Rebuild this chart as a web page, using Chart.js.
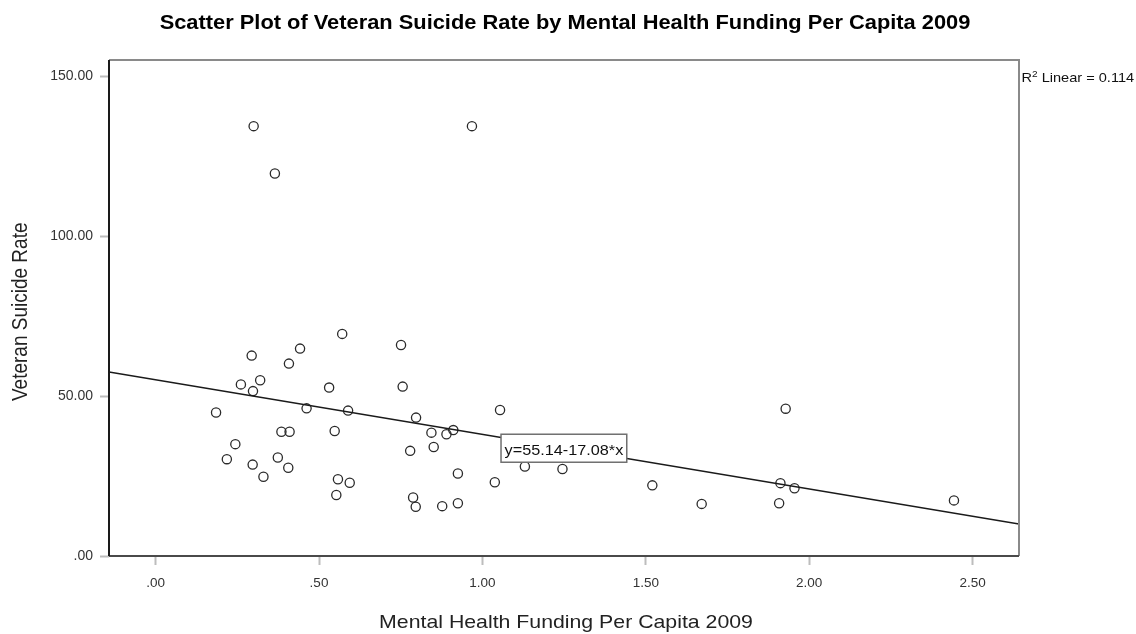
<!DOCTYPE html>
<html><head><meta charset="utf-8">
<script src="https://cdn.jsdelivr.net/npm/chart.js@4.4.0/dist/chart.umd.min.js"></script>
<style>html,body{margin:0;padding:0;background:#fff;overflow:hidden}canvas{display:block}</style>
</head><body>
<canvas id="c" width="1136" height="634"></canvas>
<script>
const chartTitle = "Scatter Plot of Veteran Suicide Rate by Mental Health Funding Per Capita 2009";
const xAxisTitle = "Mental Health Funding Per Capita 2009";
const yAxisTitle = "Veteran Suicide Rate";
const fitLabel = "y=55.14-17.08*x";
const r2Label = ["R", "2", " Linear = 0.114"];

const fundingPerCapita = [0.300, 0.365, 0.968, 0.571, 0.751, 0.294, 0.442, 0.408, 0.320, 0.261,
  0.298, 0.531, 0.756, 0.185, 0.462, 0.589, 0.797, 0.385, 0.410, 0.548,
  0.244, 0.779, 0.218, 0.374, 0.297, 0.406, 0.330, 0.558, 0.594, 0.553,
  0.788, 0.796, 0.844, 0.890, 0.911, 0.851, 1.054, 0.925, 1.038, 1.130,
  1.245, 1.520, 1.671, 0.877, 0.925, 1.928, 1.912, 1.955, 1.908, 2.443];
const suicideRate = [134.5, 119.7, 134.5, 69.5, 66.0, 62.7, 64.9, 60.2, 55.0, 53.7,
  51.6, 52.7, 53.0, 44.9, 46.2, 45.5, 43.3, 38.9, 38.9, 39.1,
  35.0, 32.9, 30.3, 30.8, 28.6, 27.6, 24.8, 24.0, 22.9, 19.1,
  18.3, 15.4, 38.6, 38.1, 39.4, 34.1, 45.7, 25.8, 23.1, 28.0,
  27.2, 22.1, 16.3, 15.6, 16.5, 46.1, 22.8, 21.2, 16.5, 17.4];

const fitIntercept = 55.14;
const fitSlope = -17.08;

const xTickValues = [0, 0.5, 1.0, 1.5, 2.0, 2.5];
const xTickLabels = [".00", ".50", "1.00", "1.50", "2.00", "2.50"];
const yTickValues = [0, 50, 100, 150];
const yTickLabels = [".00", "50.00", "100.00", "150.00"];

const xMin = -0.1426, xMax = 2.642;
const yMin = 0, yMax = 155.2;
const fitLabelAnchor = {x: 1.057, y: 38.1};

const FONT = "'Liberation Sans', Arial, sans-serif";
const K = 1.12; // horizontal text stretch

const points = fundingPerCapita.map((x, i) => ({x: x, y: suicideRate[i]}));
const fitPoints = [xMin, xMax].map(x => ({x: x, y: fitIntercept + fitSlope * x}));

function sText(ctx, text, x, y, align) {
  ctx.save();
  ctx.translate(x, y);
  ctx.scale(K, 1);
  ctx.textAlign = align || 'left';
  ctx.textBaseline = 'alphabetic';
  ctx.fillText(text, 0, 0);
  ctx.restore();
}

const decor = {
  id: 'decor',
  afterDraw(chart) {
    const ctx = chart.ctx;
    const a = chart.chartArea;
    const xs = chart.scales.x, ys = chart.scales.y;
    ctx.save();
    // frame
    ctx.lineWidth = 2;
    ctx.strokeStyle = '#8a8a8a';
    ctx.beginPath();
    ctx.moveTo(a.left, a.top); ctx.lineTo(a.right, a.top); ctx.lineTo(a.right, a.bottom);
    ctx.stroke();
    ctx.strokeStyle = '#4a4a4a';
    ctx.beginPath();
    ctx.moveTo(a.left, a.bottom); ctx.lineTo(a.right, a.bottom);
    ctx.stroke();
    ctx.strokeStyle = '#1a1a1a';
    ctx.beginPath();
    ctx.moveTo(a.left, a.top); ctx.lineTo(a.left, a.bottom);
    ctx.stroke();

    // fit label box
    ctx.font = '14.5px ' + FONT;
    const tw = ctx.measureText(fitLabel).width * K;
    const bx = xs.getPixelForValue(fitLabelAnchor.x);
    const by = ys.getPixelForValue(fitLabelAnchor.y);
    ctx.fillStyle = '#fff';
    ctx.fillRect(bx, by, tw + 7, 28);
    ctx.strokeStyle = '#707070';
    ctx.lineWidth = 1.5;
    ctx.strokeRect(bx, by, tw + 7, 28);
    ctx.fillStyle = '#111';
    sText(ctx, fitLabel, bx + 3.5, by + 20.5, 'left');

    // R2 label
    ctx.fillStyle = '#111';
    let rx = a.right + 2.5;
    const ry = ys.getPixelForValue(150) + 5;
    ctx.font = '13px ' + FONT;
    sText(ctx, r2Label[0], rx, ry, 'left');
    rx += ctx.measureText(r2Label[0]).width * K;
    ctx.font = '9px ' + FONT;
    sText(ctx, r2Label[1], rx, ry - 5, 'left');
    rx += ctx.measureText(r2Label[1]).width * K;
    ctx.font = '13px ' + FONT;
    sText(ctx, r2Label[2], rx, ry, 'left');

    // titles
    ctx.fillStyle = '#000';
    ctx.font = 'bold 19.5px ' + FONT;
    sText(ctx, chartTitle, 565, 28.5, 'center');
    ctx.fillStyle = '#222';
    ctx.font = '19px ' + FONT;
    sText(ctx, xAxisTitle, (a.left + a.right) / 2 + 2, 628, 'center');
    ctx.save();
    ctx.translate(26.5, 401);
    ctx.rotate(-Math.PI / 2);
    ctx.scale(1, K);
    ctx.textAlign = 'left';
    ctx.textBaseline = 'alphabetic';
    ctx.fillText(yAxisTitle, 0, 0);
    ctx.restore();
    ctx.restore();
  }
};

new Chart(document.getElementById('c'), {
  type: 'scatter',
  data: {
    datasets: [
      {
        type: 'scatter', data: points,
        pointRadius: 4.6, pointHoverRadius: 4.6,
        pointBackgroundColor: 'rgba(0,0,0,0)',
        pointBorderColor: '#2a2a2a', pointBorderWidth: 1.3,
        order: 2
      },
      {
        type: 'line', data: fitPoints,
        borderColor: '#1a1a1a', borderWidth: 1.6,
        pointRadius: 0, fill: false, showLine: true,
        order: 1
      }
    ]
  },
  options: {
    responsive: false, animation: false, devicePixelRatio: 1,
    layout: {padding: {top: 60, right: 117, bottom: 0, left: 0}},
    plugins: {legend: {display: false}, tooltip: {enabled: false}, title: {display: false}},
    scales: {
      x: {
        type: 'linear', position: 'bottom', min: xMin, max: xMax,
        afterFit(s) { s.height = 78; },
        afterBuildTicks(s) { s.ticks = xTickValues.map(v => ({value: v})); },
        ticks: {
          autoSkip: false, maxRotation: 0, padding: 10, color: '#333',
          font: {family: FONT, size: 13.5},
          callback: (v) => { const i = xTickValues.findIndex(t => Math.abs(t - v) < 1e-9); return i >= 0 ? xTickLabels[i] : ''; }
        },
        grid: {drawOnChartArea: false, drawTicks: true, tickLength: 9, tickColor: '#bdbdbd', tickWidth: 2},
        border: {display: false}
      },
      y: {
        type: 'linear', position: 'left', min: yMin, max: yMax,
        afterFit(s) { s.width = 109; },
        afterBuildTicks(s) { s.ticks = yTickValues.map(v => ({value: v})); },
        ticks: {
          autoSkip: false, padding: 7, color: '#333',
          font: {family: FONT, size: 14},
          callback: (v) => { const i = yTickValues.findIndex(t => Math.abs(t - v) < 1e-9); return i >= 0 ? yTickLabels[i] : ''; }
        },
        grid: {drawOnChartArea: false, drawTicks: true, tickLength: 9, tickColor: '#bdbdbd', tickWidth: 2},
        border: {display: false}
      }
    }
  },
  plugins: [decor]
});
</script>
</body></html>
